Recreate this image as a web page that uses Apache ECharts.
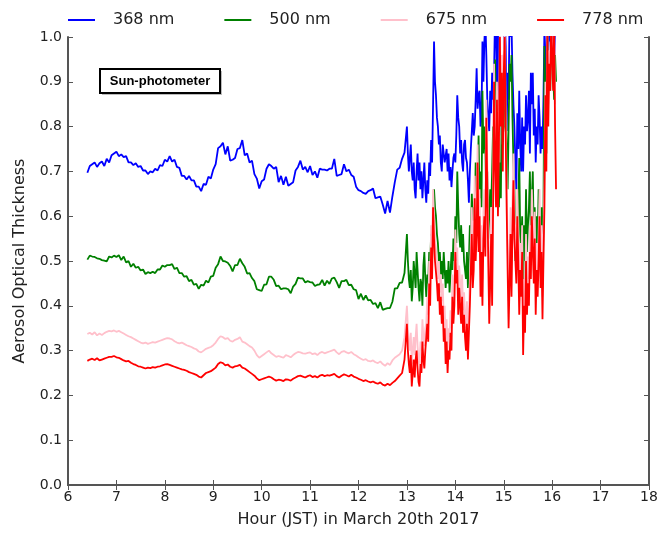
<!DOCTYPE html>
<html>
<head>
<meta charset="utf-8">
<script src="https://cdn.jsdelivr.net/npm/echarts@6/dist/echarts.min.js"></script>
<style>
  html, body { margin: 0; padding: 0; background: #fff; }
  #chart { width: 671px; height: 534px; }
</style>
</head>
<body>
<div id="chart"></div>
<script>
// quiet part: 6.40 .. 12.95 h, every 0.05 h (10 values = half an hour per row)
const blueCalm = [
  .697, .712, .716, .72, .71, .718, .722, .712, .728, .72,
  .736, .74, .744, .734, .738, .732, .734, .72, .72, .714,
  .718, .71, .712, .702, .702, .694, .7, .698, .706, .702,
  .714, .712, .726, .722, .734, .722, .726, .71, .708, .69,
  .69, .682, .69, .68, .68, .666, .666, .656, .672, .67,
  .688, .684, .704, .716, .752, .756, .764, .738, .756, .724,
  .726, .73, .75, .752, .77, .736, .74, .72, .724, .694,
  .684, .662, .678, .682, .706, .716, .712, .706, .71, .676,
  .69, .67, .688, .668, .672, .676, .702, .71, .724, .704,
  .71, .698, .712, .692, .7, .686, .706, .704, .704, .702,
  .706, .706, .728, .69, .692, .694, .716, .7, .704, .692,
  .688, .666, .658, .656, .652, .65, .656, .658, .662, .64,
  .642, .644, .626, .606, .634, .608, .644, .676, .704, .708,
  .728, .742
];
const greenCalm = [
  .503, .512, .51, .509, .506, .505, .502, .501, .499, .51,
  .508, .512, .509, .513, .502, .51, .497, .5, .487, .494,
  .485, .487, .479, .481, .471, .475, .473, .476, .473, .481,
  .481, .49, .487, .491, .491, .493, .482, .485, .473, .473,
  .465, .466, .455, .458, .447, .449, .438, .447, .445, .456,
  .452, .465, .467, .485, .493, .51, .5, .499, .496, .489,
  .477, .491, .491, .505, .495, .487, .472, .473, .462, .455,
  .437, .435, .433, .447, .448, .465, .465, .458, .444, .445,
  .437, .439, .439, .437, .428, .443, .449, .463, .461, .461,
  .452, .455, .453, .452, .444, .447, .448, .458, .445, .456,
  .449, .461, .463, .453, .44, .455, .455, .458, .446, .447,
  .437, .435, .415, .427, .413, .423, .412, .413, .404, .406,
  .395, .408, .391, .393, .395, .395, .409, .439, .439, .451,
  .452, .473
];
const pinkCalm = [
  .337, .34, .336, .341, .334, .338, .335, .339, .342, .344,
  .343, .345, .342, .344, .341, .338, .335, .332, .33, .327,
  .324, .321, .318, .316, .318, .315, .317, .319, .318, .32,
  .322, .324, .326, .328, .327, .325, .321, .318, .316, .318,
  .315, .312, .31, .308, .305, .303, .298, .296, .3, .304,
  .306, .308, .312, .318, .326, .332, .33, .326, .328, .322,
  .32, .324, .326, .33, .32, .318, .314, .31, .307, .3,
  .29, .284, .288, .292, .296, .3, .294, .29, .286, .288,
  .286, .284, .29, .288, .285, .29, .294, .297, .296, .294,
  .293, .295, .296, .292, .294, .29, .295, .297, .294, .296,
  .298, .3, .302, .296, .292, .297, .299, .296, .294, .297,
  .292, .289, .285, .282, .279, .281, .277, .276, .278, .274,
  .272, .276, .27, .266, .272, .268, .278, .284, .288, .292,
  .3, .33
];
const redCalm = [
  .277, .28, .282, .279, .283, .278, .28, .282, .284, .286,
  .286, .288, .285, .284, .281, .278, .276, .277, .273, .27,
  .268, .265, .264, .262, .26, .262, .261, .263, .262, .264,
  .265, .267, .269, .27, .268, .266, .264, .262, .26, .258,
  .257, .255, .252, .25, .248, .246, .242, .24, .245, .25,
  .252, .254, .258, .262, .27, .274, .272, .267, .269, .264,
  .262, .265, .266, .268, .262, .26, .256, .252, .248, .244,
  .238, .234, .236, .238, .24, .242, .24, .236, .233, .235,
  .234, .232, .236, .235, .233, .237, .24, .243, .244, .242,
  .24, .243, .245, .241, .243, .24, .244, .246, .243, .245,
  .244, .246, .248, .243, .24, .244, .247, .245, .242, .246,
  .242, .24, .237, .235, .232, .234, .231, .229, .231, .228,
  .226, .229, .224, .222, .226, .223, .228, .232, .238, .244,
  .25, .28
];

// turbulent part: 13.00 .. 16.08 h, every 0.02 h (10 values = 0.2 h per row)
const blueStorm = [
  .80, .74, .70, .73, .76, .70, .68, .72, .66, .64,
  .70, .74, .68, .72, .66, .70, .64, .68, .72, .66,
  .63, .68, .65, .72, .69, .77, .72, .85, .99, .90,
  .87, .82, .80, .76, .78, .72, .70, .76, .74, .72,
  .72, .75, .70, .74, .68, .71, .665, .70, .73, .74,
  .72, .78, .87, .82, .80, .74, .77, .72, .70, .76,
  .77, .73, .72, .68, .63, .70, .75, .79, .83, .78,
  .80, .86, .93, .84, .87, .88, .80, .82, .99, .90,
  .99, 1.04, .96, .86, .82, .79, .88, .83, .92, .86,
  .92, 1.05, 1.02, .88, 1.04, .90, .83, .95, .78, .90,
  .95, 1.05, .98, .79, .92, .86, 1.05, 1.0, 1.03, .92,
  .85, .80, .72, .66, .83, .75, .88, .76, .70, .82,
  .70, .80, .76, .87, .79, .82, .88, .74, .92, .85,
  .92, .78, .84, .72, .80, .76, .87, .82, .74, .80,
  .75, .86, 1.02, .96, .88, 1.05, .97, 1.02, .99, 1.04,
  1.04, .98, .94, 1.02, null
];
const greenStorm = [
  .56, .50, .46, .44, .48, .41, .44, .50, .47, .44,
  .52, .48, .44, .41, .46, .45, .40, .49, .52, .46,
  .42, .47, .45, .52, .49, .56, .50, .60, .66, .62,
  .60, .56, .54, .50, .52, .47, .50, .46, .52, .48,
  .44, .48, .45, .50, .43, .47, .52, .48, .55, .50,
  .60, .54, .70, .62, .56, .53, .58, .52, .56, .50,
  .50, .46, .52, .44, .50, .58, .54, .65, .59, .62,
  .59, .72, .62, .66, .78, .64, .70, .62, .88, .74,
  .80, .76, .62, .70, .55, .60, .66, .62, .70, .80,
  .74, .95, .80, .66, .86, .62, .72, .64, .86, .78,
  .80, .98, .84, .75, .66, .80, .94, .90, .96, .82,
  .72, .66, .50, .58, .48, .62, .73, .56, .52, .60,
  .42, .58, .50, .66, .52, .58, .62, .70, .55, .64,
  .70, .55, .62, .50, .60, .54, .66, .58, .48, .62,
  .47, .60, .98, .86, .74, 1.02, .90, .96, .88, 1.0,
  1.0, .92, .86, .96, .90
];
const pinkStorm = [
  .40, .35, .32, .30, .34, .27, .30, .33, .29, .33,
  .36, .31, .28, .27, .32, .30, .37, .33, .31, .35,
  .36, .42, .38, .50, .46, .58, .52, .66, .60, .55,
  .55, .50, .46, .50, .43, .47, .41, .45, .37, .40,
  .32, .37, .30, .35, .33, .39, .35, .47, .41, .45,
  .57, .50, .53, .43, .49, .45, .41, .47, .39, .43,
  .38, .35, .41, .33, .39, .46, .54, .62, .50, .54,
  .69, .56, .62, .76, .58, .66, .48, .58, .46, .61,
  .66, .57, .86, .72, .56, .42, .51, .62, .46, .68,
  .94, .77, .68, .90, .66, .80, 1.02, .85, .96, .76,
  .96, 1.03, .83, .68, .54, .41, .51, .62, .48, .63,
  .74, .61, .56, .51, .66, .56, .44, .54, .48, .58,
  .34, .46, .40, .56, .44, .51, .46, .58, .52, .66,
  .66, .51, .61, .44, .54, .48, .56, .66, .50, .58,
  .42, .56, .68, .90, .76, 1.03, .85, .97, .92, 1.04,
  1.04, .92, 1.02, .85, null
];
const redStorm = [
  .36, .30, .27, .25, .29, .22, .25, .28, .24, .28,
  .30, .26, .23, .22, .27, .25, .32, .28, .26, .30,
  .30, .36, .32, .45, .40, .53, .46, .62, .55, .50,
  .50, .45, .41, .45, .38, .42, .36, .40, .32, .35,
  .27, .32, .25, .30, .28, .34, .30, .42, .36, .40,
  .52, .45, .48, .38, .44, .40, .36, .42, .34, .38,
  .33, .30, .36, .28, .34, .40, .48, .56, .44, .48,
  .64, .50, .56, .72, .52, .60, .42, .52, .40, .55,
  .60, .51, .82, .66, .50, .36, .45, .56, .40, .62,
  .90, .72, .62, .86, .60, .75, 1.0, .80, .92, .70,
  .92, 1.0, .78, .62, .48, .35, .45, .56, .42, .57,
  .68, .55, .50, .45, .60, .50, .38, .48, .42, .52,
  .29, .40, .34, .50, .38, .45, .40, .52, .46, .60,
  .60, .45, .55, .38, .48, .42, .50, .60, .44, .52,
  .37, .50, .62, .87, .70, 1.02, .80, .94, .88, 1.04,
  1.04, .88, 1.02, .80, .66
];

const legendNames = ['368 nm', '500 nm', '675 nm', '778 nm'];
const lineColors = ['#0000ff', '#008000', '#ffc0cb', '#ff0000'];

function toPoints(calm, storm) {
  const pts = [];
  calm.forEach((v, i) => pts.push([+(6.4 + i * 0.05).toFixed(2), v]));
  storm.forEach((v, i) => pts.push([+(13.0 + i * 0.02).toFixed(2), v]));
  return pts;
}

const seriesData = [
  toPoints(blueCalm, blueStorm),
  toPoints(greenCalm, greenStorm),
  toPoints(pinkCalm, pinkStorm),
  toPoints(redCalm, redStorm)
];

const font = 'DejaVu Sans';
const axisCol = '#555';

function frameAxis(extra) {
  return Object.assign({
    type: 'value',
    axisLine: { show: true, lineStyle: { color: axisCol, width: 2 } },
    axisTick: { show: true, inside: true, length: 5, lineStyle: { color: axisCol } },
    splitLine: { show: false }
  }, extra);
}

let chart = echarts.init(document.getElementById('chart'));
chart.setOption({
  animation: false,
  textStyle: { fontFamily: font },
  legend: {
    top: 7,
    left: 63,
    itemWidth: 27,
    itemHeight: 2,
    itemGap: 50,
    icon: 'rect',
    textStyle: { fontSize: 16, color: '#222', padding: [0, 0, 0, 13], fontFamily: font },
    data: legendNames
  },
  grid: { left: 68, right: 22, top: 37, bottom: 49, show: false },
  xAxis: [frameAxis({
    min: 6, max: 18, interval: 1,
    name: 'Hour (JST) in March 20th 2017',
    nameLocation: 'middle',
    nameGap: 27,
    nameTextStyle: { fontSize: 16, color: '#222' },
    axisLabel: { fontSize: 14, color: '#222', margin: 5 }
  }), frameAxis({
    position: 'top',
    min: 6, max: 18, interval: 1,
    axisLabel: { show: false }
  })],
  yAxis: [frameAxis({
    min: 0, max: 1, interval: 0.1,
    name: 'Aerosol Optical Thickness',
    nameLocation: 'middle',
    nameGap: 40,
    nameTextStyle: { fontSize: 16, color: '#222' },
    axisLabel: { fontSize: 14, color: '#222', margin: 6, formatter: v => v.toFixed(1) }
  }), frameAxis({
    position: 'right',
    min: 0, max: 1, interval: 0.1,
    axisLabel: { show: false }
  })],
  graphic: [{
    type: 'group',
    left: 99,
    top: 68,
    children: [{
      type: 'rect',
      shape: { x: 2, y: 2, width: 120, height: 24 },
      style: { fill: '#bbb' }
    }, {
      type: 'rect',
      shape: { x: 0, y: 0, width: 120, height: 24 },
      style: { fill: '#fff', stroke: '#000', lineWidth: 2 }
    }, {
      type: 'text',
      x: 60, y: 12,
      style: {
        text: 'Sun-photometer',
        font: 'bold 13px "Liberation Sans", Arial, sans-serif',
        fill: '#000',
        align: 'center',
        verticalAlign: 'middle'
      }
    }]
  }],
  series: legendNames.map((name, k) => ({
    name: name,
    type: 'line',
    data: seriesData[k],
    showSymbol: false,
    symbol: 'none',
    clip: true,
    lineStyle: { color: lineColors[k], width: 1.8 },
    itemStyle: { color: lineColors[k] }
  }))
});
</script>
</body>
</html>
